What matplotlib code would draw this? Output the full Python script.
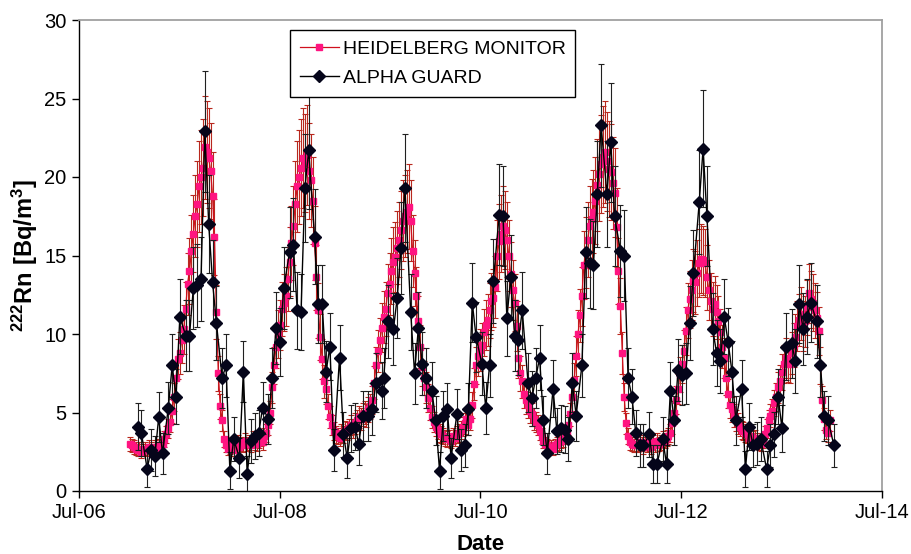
import numpy as np
import pandas as pd
import matplotlib
matplotlib.use('Agg')
import matplotlib.pyplot as plt
import matplotlib.dates as mdates

plt.rcParams['font.family'] = ['Liberation Sans', 'DejaVu Sans']
plt.rcParams['mathtext.fontset'] = 'custom'
plt.rcParams['mathtext.rm'] = 'Liberation Sans'
plt.rcParams['mathtext.bf'] = 'Liberation Sans:bold'

# weekly Heidelberg monitor series, first value on START
START = '2007-01-02'
HM_VALUES = [
    # 2007
    3.0, 2.9, 2.8, 2.7, 2.6, 2.7, 2.5, 2.6, 2.7, 2.6,
    2.8, 2.7, 2.6, 2.8, 2.7, 2.9, 2.8, 3.0, 3.3, 3.6,
    4.0, 4.4, 5.1, 6.0, 7.2, 8.4, 8.8, 9.6, 10.3, 11.6,
    13.2, 14.0, 15.3, 16.4, 17.5, 18.3, 19.4, 20.0, 20.6, 21.9,
    21.6, 21.2, 20.4, 18.8, 16.2, 11.4, 7.5, 5.4, 4.5, 3.3,
    2.9, 2.7,
    # 2008
    2.8, 3.0, 2.6, 2.9, 3.1, 2.8, 3.0, 2.9, 3.2, 3.0,
    3.1, 2.9, 3.3, 3.1, 3.0, 3.2, 3.4, 3.1, 3.5, 3.7,
    4.2, 5.0, 6.6, 8.0, 9.2, 10.0, 10.6, 11.6, 12.0, 12.4,
    13.5, 14.6, 15.8, 16.9, 18.3, 19.4, 20.0, 20.6, 21.2, 20.9,
    21.4, 20.4, 19.8, 18.5, 15.8, 13.6, 11.5, 9.8, 8.4, 7.0,
    6.5, 5.4, 4.7, 4.2, 3.8,
    # 2009
    3.6, 3.5, 3.4, 3.7, 3.6, 3.9, 3.8, 4.0, 4.2, 4.0,
    4.3, 4.5, 4.7, 4.6, 4.9, 5.0, 4.8, 5.2, 5.4, 5.8,
    6.9, 8.0, 8.9, 9.6, 10.4, 11.1, 11.6, 12.6, 13.2, 14.0,
    14.6, 14.9, 15.5, 16.0, 16.6, 17.2, 17.5, 17.8, 18.1, 17.2,
    15.3, 13.9, 12.4, 10.8, 9.2, 7.9, 7.2, 6.6, 5.9, 5.3,
    4.7, 4.4, 4.1, 3.9, 3.7, 3.6, 3.5, 3.4, 3.3, 3.4,
    3.2, 3.5, 3.4, 3.6, 3.7, 3.9, 4.1, 4.3, 4.6,
    # 2010 - 2011
    4.2, 4.6, 5.5, 6.8, 8.0, 8.6, 9.0, 9.3, 10.1, 10.6,
    10.9, 11.5, 12.1, 12.3, 13.0, 15.0, 15.9, 16.4, 16.9, 16.6,
    16.0, 15.0, 13.8, 12.8, 12.0, 10.5, 8.5, 7.5, 7.0, 6.2,
    5.8, 5.5, 5.1, 4.9, 4.6, 4.4, 4.2, 3.8, 3.5, 3.2,
    3.0, 2.9, 2.8, 2.8, 2.7, 2.9, 3.0, 3.1, 3.2, 3.3,
    3.5, 3.7, 4.2, 4.9, 6.0, 7.1, 8.6, 10.0, 11.2, 12.4,
    14.4, 15.2, 16.0, 16.9, 17.3, 17.8, 18.5, 19.5, 20.2, 20.8,
    21.3, 21.6, 21.0, 20.5, 20.3, 19.6, 19.0, 16.8, 14.0, 11.8,
    8.8, 6.0, 4.3, 3.5, 3.1, 3.0, 2.9,
    # 2012 - 2013
    3.0, 2.9, 3.1, 3.0, 2.8, 3.1, 2.9, 3.0, 2.8, 3.1,
    2.9, 3.2, 3.0, 3.1, 3.3, 3.2, 3.4, 3.5, 3.7, 4.3,
    5.0, 5.8, 6.5, 7.4, 8.1, 8.9, 10.2, 11.5, 12.2, 12.8,
    13.4, 13.3, 13.9, 14.5, 14.8, 14.7, 14.5, 13.6, 12.8, 12.1,
    11.6, 11.9, 11.4, 10.8, 10.1, 9.2, 8.5, 7.2, 6.2, 5.5,
    5.2, 4.8, 4.5, 4.3, 4.1, 3.9, 3.8, 3.7, 3.6, 3.4,
    3.5, 3.3, 3.4, 3.2, 3.1, 3.0, 3.2, 3.6, 4.0, 4.5,
    4.8, 5.1, 5.6, 6.0, 6.6, 7.0, 7.6, 8.1, 8.5, 8.2,
    8.1, 8.8, 9.3, 9.8, 10.5, 10.9, 11.3, 10.5, 10.8, 11.7,
    12.6, 12.2, 12.0, 11.5, 11.0, 10.2, 8.0, 5.8, 4.6, 3.9,
    3.7, 4.5,
]

# AlphaGUARD samples: week number after START and concentration
AG_WEEKS = [
    4, 6, 9, 11, 13, 15, 17, 20, 22, 24,
    26, 29, 31, 33, 35, 37, 39, 41, 43, 45,
    48, 50, 52, 54, 57, 59, 61, 63, 65, 67,
    69, 72, 74, 76, 78, 80, 83, 85, 87, 89,
    91, 93, 96, 98, 100, 102, 104, 106, 109, 111,
    113, 115, 117, 119, 121, 124, 126, 128, 131, 132,
    134, 137, 139, 141, 143, 146, 148, 150, 152, 154,
    157, 159, 161, 163, 165, 167, 170, 172, 174, 176,
    178, 180, 183, 185, 187, 189, 192, 194, 196, 198,
    200, 202, 204, 207, 209, 211, 213, 215, 217, 220,
    222, 224, 226, 228, 230, 232, 235, 237, 239, 241,
    243, 245, 248, 250, 252, 255, 257, 259, 261, 263,
    265, 267, 270, 272, 274, 277, 279, 281, 283, 285,
    287, 289, 291, 293, 296, 298, 300, 303, 305, 307,
    309, 311, 313, 315, 318, 320, 322, 324, 326, 328,
    331, 333, 335, 337, 339, 341, 344, 346, 348, 350,
    352, 354, 357, 359, 361, 363, 366,
]
AG_VALUES = [
    4.1, 3.7, 1.4, 2.6, 2.2, 4.7, 2.4, 5.3, 8.0, 6.0,
    11.1, 9.9, 9.9, 12.9, 13.1, 13.5, 22.9, 17.0, 13.3, 10.7,
    7.2, 8.0, 1.3, 3.3, 2.1, 7.6, 1.1, 3.2, 3.5, 3.7,
    5.3, 4.6, 7.2, 10.4, 9.5, 12.9, 15.2, 15.7, 11.5, 11.4,
    19.3, 21.7, 16.2, 11.9, 11.9, 7.6, 9.2, 2.6, 8.5, 3.6,
    2.1, 4.0, 4.1, 3.0, 4.8, 4.8, 5.2, 6.9, 6.4, 7.2,
    10.8, 10.3, 12.3, 15.5, 19.3, 11.4, 7.5, 10.4, 8.1, 7.2,
    6.4, 4.5, 1.3, 4.8, 5.2, 2.1, 4.9, 2.6, 2.9, 5.2,
    12.0, 9.8, 8.1, 5.3, 8.0, 13.4, 17.6, 17.5, 11.0, 13.6,
    9.9, 9.6, 11.5, 6.9, 5.9, 7.2, 8.5, 4.5, 2.4, 6.5,
    3.8, 4.0, 3.9, 3.3, 6.9, 4.8, 8.0, 15.2, 14.5, 14.4,
    18.9, 23.3, 18.9, 22.2, 17.5, 15.3, 15.0, 7.2, 6.0, 3.7,
    2.9, 2.9, 3.6, 1.7, 1.7, 3.3, 1.7, 6.4, 4.5, 7.7,
    7.4, 7.5, 10.7, 13.9, 18.4, 21.8, 17.5, 10.3, 8.8, 8.3,
    11.1, 9.5, 7.6, 4.5, 6.5, 1.4, 4.1, 2.9, 3.0, 3.3,
    1.4, 2.9, 3.6, 6.0, 4.0, 9.2, 9.4, 8.3, 11.9, 10.3,
    11.1, 12.0, 10.8, 8.0, 4.8, 4.5, 2.9,
]

# measurement uncertainties
HM_REL_ERR = 0.15
AG_ABS_ERR = 1.0
AG_REL_ERR = 0.125

hm = np.array(HM_VALUES)
ag = np.array(AG_VALUES)
hm_dates = pd.date_range(START, periods=len(hm), freq='7D')
ag_dates = pd.Timestamp(START) + pd.to_timedelta(np.array(AG_WEEKS) * 7, unit='D')
hm_err = HM_REL_ERR * hm
ag_err = AG_ABS_ERR + AG_REL_ERR * ag

fig = plt.figure(figsize=(9.12, 5.54), dpi=100)
ax = fig.add_axes([79 / 912, 1 - 491 / 554, 803 / 912, 471 / 554])

ax.errorbar(hm_dates, hm, yerr=hm_err, fmt='none', ecolor='#B8281E',
            elinewidth=0.8, capsize=2.5, capthick=0.8, zorder=2)
hm_line, = ax.plot(hm_dates, hm, color='#D0101E', lw=0.9, marker='s', ms=4.2,
                   mfc='#FF1480', mec='#FF1480', zorder=3,
                   label='HEIDELBERG MONITOR')
ax.errorbar(ag_dates, ag, yerr=ag_err, fmt='none', ecolor='#202020',
            elinewidth=0.8, capsize=2.5, capthick=0.8, zorder=4)
ag_line, = ax.plot(ag_dates, ag, color='black', lw=1.0, marker='D', ms=6.5,
                   mfc='#05051A', mec='#05051A', zorder=5, label='ALPHA GUARD')

ax.set_xlim(pd.Timestamp('2006-07-01'), pd.Timestamp('2014-07-01'))
ax.set_ylim(0, 30)
ax.set_yticks(range(0, 31, 5))
ax.xaxis.set_major_locator(mdates.MonthLocator(bymonth=7, interval=24))
ax.xaxis.set_major_formatter(mdates.DateFormatter('%b-%y'))

ax.tick_params(direction='out', length=5, width=1, labelsize=14.5,
               colors='black', pad=4)
for side in ('left', 'bottom'):
    ax.spines[side].set_color('black')
    ax.spines[side].set_linewidth(1)
for side in ('top', 'right'):
    ax.spines[side].set_color('#A0A0A0')
    ax.spines[side].set_linewidth(1.3)

ax.set_xlabel('Date', fontsize=16, fontweight='bold', labelpad=8)
ax.set_ylabel(r'$\mathbf{^{222}Rn\ [Bq/m^{3}]}$', fontsize=17, labelpad=3)

leg = ax.legend(handles=[hm_line, ag_line], loc='upper left',
                bbox_to_anchor=(0.263, 0.978), borderaxespad=0,
                fancybox=False, framealpha=1, edgecolor='black',
                fontsize=14, handlelength=2.0, handletextpad=0.2,
                borderpad=0.5, labelspacing=0.6)
leg.get_frame().set_linewidth(1)

fig.savefig('out.png', dpi=100)
